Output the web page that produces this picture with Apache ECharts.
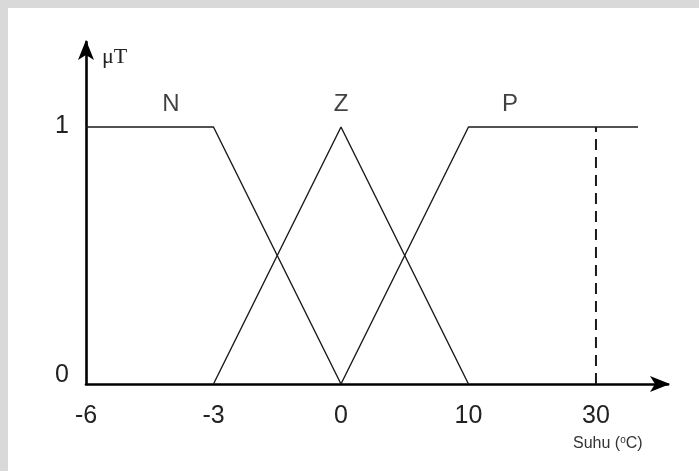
<!DOCTYPE html>
<html>
<head>
<meta charset="utf-8">
<script src="https://cdn.jsdelivr.net/npm/echarts@6/dist/echarts.min.js"></script>
<style>
    html,body{margin:0;padding:0;background:#fff;}
    #chart{width:699px;height:471px;}
</style>
</head>
<body>
<div id="chart"></div>
<script>
// x ticks are evenly spaced, not to scale
var tickValues = [-6, -3, 0, 10, 30];
var yTicks = ['0', '1'];
// membership functions, [suhu, mu]
var nPoints = [[-6, 1], [-3, 1], [0, 0]];
var zPoints = [[-3, 0], [0, 1], [10, 0]];
var pPoints = [[0, 0], [10, 1], [36.6, 1]];
var cutLine = [[30, 0], [30, 1]];
var setNames = ['N', 'Z', 'P'];
var setX = [-4, 0, 16.5];
var setY = 1.09;

//suhu -> index position on the axis
function toPos(v){
    var n = tickValues.length;
    for(var i = 0; i < n - 1; i++){
        if(v <= tickValues[i + 1] || i == n - 2){
            return i + (v - tickValues[i]) / (tickValues[i + 1] - tickValues[i]);
        }
    }
    return 0;
}
function mapPts(arr){
    return arr.map(function(p){ return [toPos(p[0]), p[1]]; });
}

var lineStyle = {color: '#1a1a1a', width: 1.4};
var font = 'Liberation Sans';
var chart = echarts.init(document.getElementById('chart'));
chart.setOption({
    animation: false,
    grid: {left: 86, right: 31, top: 42, bottom: 87},
    xAxis: {
        type: 'value',
        min: 0,
        max: 4.565,
        interval: 1,
        splitLine: {show: false},
        axisTick: {show: false},
        axisLine: {
            show: true,
            symbol: ['none', 'arrow'],
            symbolSize: [12, 20],
            symbolOffset: [0, 2],
            lineStyle: {color: '#000', width: 2.6}
        },
        axisLabel: {
            margin: 20,
            fontFamily: font,
            fontSize: 25,
            color: '#222',
            showMaxLabel: false,
            formatter: function(v){
                return (Math.abs(v - Math.round(v)) < 1e-6 && v < tickValues.length) ? String(tickValues[Math.round(v)]) : '';
            }
        }
    },
    yAxis: {
        type: 'value',
        min: 0,
        max: 1.331,
        interval: 1,
        name: 'μT',
        nameLocation: 'end',
        nameGap: -26,
        nameTextStyle: {
            fontFamily: 'Liberation Serif',
            fontSize: 22,
            color: '#222',
            align: 'left',
            padding: [0, 0, 0, 16]
        },
        splitLine: {show: false},
        axisTick: {show: false},
        axisLine: {
            show: true,
            symbol: ['none', 'arrow'],
            symbolSize: [12, 20],
            symbolOffset: [0, 2],
            lineStyle: {color: '#000', width: 2.6}
        },
        axisLabel: {
            margin: 17,
            showMaxLabel: false,
            formatter: function(v){
                if(v === 0) return '{z|' + yTicks[0] + '}';
                if(v === 1) return '{o|' + yTicks[1] + '}';
                return '';
            },
            rich: {
                z: {fontFamily: font, fontSize: 25, color: '#222', padding: [0, 0, 18, 0]},
                o: {fontFamily: font, fontSize: 25, color: '#222', padding: [0, 0, 1, 0]}
            }
        }
    },
    graphic: [
        {type: 'rect', shape: {x: 0, y: 0, width: 699, height: 8}, style: {fill: '#d9d9d9'}, silent: true},
        {type: 'rect', shape: {x: 0, y: 0, width: 8, height: 471}, style: {fill: '#d9d9d9'}, silent: true},
        {
            type: 'text', left: 573, top: 435,
            style: {
                text: 'Suhu ({s|o}C)',
                fontFamily: font,
                fontSize: 16,
                fill: '#333',
                rich: {s: {fontSize: 10, fontFamily: font, fill: '#333', verticalAlign: 'top', padding: [0, 0, 8, 0]}}
            }
        }
    ],
    series: [
        {type: 'line', data: mapPts(nPoints), symbol: 'none', lineStyle: lineStyle},
        {type: 'line', data: mapPts(zPoints), symbol: 'none', lineStyle: lineStyle},
        {type: 'line', data: mapPts(pPoints), symbol: 'none', lineStyle: lineStyle},
        {
            type: 'line', data: mapPts(cutLine), symbol: 'none',
            lineStyle: {color: '#1a1a1a', width: 2, type: [11, 7]}
        },
        {
            type: 'scatter',
            symbolSize: 0,
            data: setNames.map(function(n, i){ return {name: n, value: [toPos(setX[i]), setY]}; }),
            label: {
                show: true,
                position: 'inside',
                formatter: '{b}',
                fontFamily: font,
                fontSize: 24,
                color: '#111'
            }
        }
    ]
});
</script>
</body>
</html>
